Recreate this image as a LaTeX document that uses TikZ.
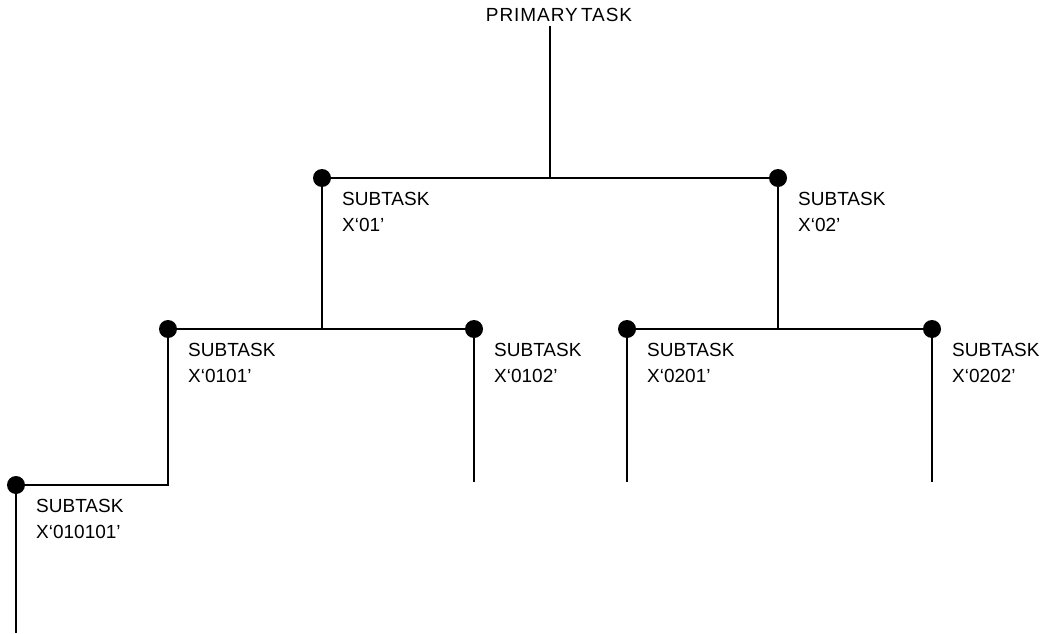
\documentclass[tikz,border=0pt]{standalone}
\usepackage{fontspec}
\setmainfont{Liberation Sans}
\usepackage{tikz}
\usetikzlibrary{positioning}
\tikzset{
  dot/.style={circle,fill=black,inner sep=0pt,minimum size=18pt},
  tasklbl/.style={font=\fontsize{19}{26}\selectfont,align=left,inner sep=0pt},
  link/.style={line width=1.6pt},
}

\begin{document}
\begin{tikzpicture}[x=1pt,y=-1pt]
  \useasboundingbox (0,0) rectangle (1042,634);
  % primary task
  \node[font=\fontsize{19}{22}\selectfont\addfontfeatures{LetterSpace=5},inner sep=0pt] (ptask) at (559,15) {PRIMARY\,TASK};
  \coordinate (root) at (550,26);

  % subtask dots
  \node[dot] (s01) at (322,178) {};
  \node[dot] (s02) at (778,178) {};
  \node[dot] (s0101) at (168,329) {};
  \node[dot] (s0102) at (474,329) {};
  \node[dot] (s0201) at (627,329) {};
  \node[dot] (s0202) at (932,329) {};
  \node[dot] (s010101) at (16,485) {};

  % labels
  \node[tasklbl,below right=14pt and 20pt of s01.center] (l01) {SUBTASK\\X`01'};
  \node[tasklbl,below right=14pt and 20pt of s02.center] (l02) {SUBTASK\\X`02'};
  \node[tasklbl,below right=14pt and 20pt of s0101.center] (l0101) {SUBTASK\\X`0101'};
  \node[tasklbl,below right=14pt and 20pt of s0102.center] (l0102) {SUBTASK\\X`0102'};
  \node[tasklbl,below right=14pt and 20pt of s0201.center] (l0201) {SUBTASK\\X`0201'};
  \node[tasklbl,below right=14pt and 20pt of s0202.center] (l0202) {SUBTASK\\X`0202'};
  \node[tasklbl,below right=14pt and 20pt of s010101.center] (l010101) {SUBTASK\\X`010101'};

  % free ends
  \coordinate (e0102) at (474,482);
  \coordinate (e0201) at (627,482);
  \coordinate (e0202) at (932,482);
  \coordinate (e010101) at (16,633);

  % tree
  \draw[link] (root) -- (root |- s01);
  \draw[link] (s01) -- (s02);
  \draw[link] (s01) -- (s01 |- s0101);
  \draw[link] (s02) -- (s02 |- s0201);
  \draw[link] (s0101) -- (s0102);
  \draw[link] (s0201) -- (s0202);
  \draw[link] (s0102) -- (e0102);
  \draw[link] (s0201) -- (e0201);
  \draw[link] (s0202) -- (e0202);
  \draw[link] (s0101) -- (s0101 |- s010101) -- (s010101);
  \draw[link] (s010101) -- (e010101);
\end{tikzpicture}
\end{document}
